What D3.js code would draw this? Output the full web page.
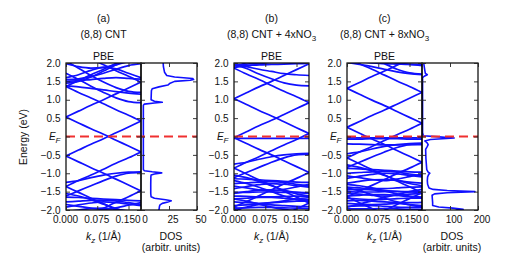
<!DOCTYPE html>
<html>
<head>
<meta charset="utf-8">
<script src="https://cdn.jsdelivr.net/npm/d3@7"></script>
<style>
  body { margin: 0; background: #fff; }
  svg text { font-family: "Liberation Sans", Arial, sans-serif; font-size: 10.5px; fill: #111; }
  svg .tick text { font-size: 10px; }
</style>
</head>
<body>
<div id="chart"></div>
<script>
// --- Data ---
const kGrid = [0, 0.03, 0.06, 0.09, 0.12, 0.15, 0.18];
const kTicks = [0, 0.075, 0.15];
const energyTicks = [-2, -1.5, -1, -0.5, 0, 0.5, 1, 1.5, 2];
const energyLabels = ['\u22122.0', '\u22121.5', '\u22121.0', '\u22120.5', 'EF', '0.5', '1.0', '1.5', '2.0'];
const dosTicksA = [0, 25, 50];
const dosTicksC = [0, 100, 200];

// band energies (eV) at each kGrid point
const bandsA = [
  [-0.53, -0.37, -0.21, -0.06, 0.10, 0.26, 0.42],
  [0.53, 0.37, 0.21, 0.06, -0.10, -0.26, -0.42],
  [0.53, 0.69, 0.85, 1.00, 1.16, 1.32, 1.48],
  [-0.53, -0.69, -0.85, -1.00, -1.16, -1.32, -1.48],
  [1.36, 1.20, 1.05, 0.89, 0.73, 0.58, 0.42],
  [-1.36, -1.20, -1.05, -0.89, -0.73, -0.58, -0.42],
  [1.36, 1.52, 1.68, 1.83, 1.99, 2.15, 2.31],
  [-1.36, -1.52, -1.68, -1.83, -1.99, -2.15, -2.31],
  [2.42, 2.27, 2.11, 1.95, 1.79, 1.64, 1.48],
  [-2.42, -2.27, -2.11, -1.95, -1.79, -1.64, -1.48],
  [1.72, 1.55, 1.37, 1.20, 1.05, 0.95, 0.92],
  [2.05, 1.86, 1.66, 1.48, 1.33, 1.23, 1.20],
  [1.38, 1.35, 1.31, 1.27, 1.22, 1.18, 1.15],
  [1.45, 1.50, 1.62, 1.78, 1.95, 2.10, 2.20],
  [1.55, 1.57, 1.63, 1.72, 1.83, 1.93, 1.98],
  [1.50, 1.52, 1.55, 1.58, 1.60, 1.58, 1.56],
  [1.60, 1.68, 1.80, 1.88, 1.84, 1.72, 1.60],
  [1.98, 1.90, 1.86, 1.88, 1.95, 2.04, 2.10],
  [-1.25, -1.20, -1.12, -1.05, -1.00, -0.97, -0.96],
  [-1.62, -1.48, -1.34, -1.20, -1.08, -1.00, -0.98],
  [-1.65, -1.66, -1.68, -1.70, -1.72, -1.74, -1.75],
  [-1.78, -1.76, -1.74, -1.73, -1.75, -1.80, -1.85],
  [-1.85, -1.90, -1.95, -1.98, -1.94, -1.87, -1.80],
  [-1.55, -1.62, -1.72, -1.84, -1.96, -2.06, -2.12],
  [-1.92, -1.86, -1.81, -1.78, -1.80, -1.84, -1.88],
  [-2.05, -2.00, -1.96, -1.95, -1.98, -2.02, -2.05]
];

const bandsB = [
  [-0.03, 0.13, 0.29, 0.44, 0.60, 0.76, 0.92],
  [1.03, 0.87, 0.71, 0.56, 0.40, 0.24, 0.08],
  [1.03, 1.19, 1.35, 1.50, 1.66, 1.82, 1.98],
  [-0.03, -0.19, -0.35, -0.50, -0.66, -0.82, -0.98],
  [1.86, 1.70, 1.55, 1.39, 1.23, 1.08, 0.92],
  [-0.86, -0.70, -0.55, -0.39, -0.23, -0.08, 0.08],
  [1.86, 2.02, 2.18, 2.33, 2.49, 2.65, 2.81],
  [-0.86, -1.02, -1.18, -1.33, -1.49, -1.65, -1.81],
  [-1.92, -1.77, -1.61, -1.45, -1.29, -1.14, -0.98],
  [-1.92, -2.08, -2.24, -2.39, -2.55, -2.71, -2.87],
  [-2.76, -2.60, -2.45, -2.29, -2.13, -1.97, -1.81],
  [1.98, 1.85, 1.70, 1.57, 1.46, 1.40, 1.38],
  [1.96, 1.90, 1.83, 1.77, 1.71, 1.68, 1.66],
  [1.92, 1.93, 1.95, 1.96, 1.97, 1.98, 1.99],
  [1.88, 1.92, 1.97, 2.02, 2.06, 2.10, 2.12],
  [1.95, 1.97, 2.00, 2.05, 2.10, 2.08, 2.06],
  [-0.75, -0.70, -0.62, -0.55, -0.50, -0.47, -0.46],
  [-1.12, -0.98, -0.84, -0.70, -0.58, -0.50, -0.48],
  [-1.15, -1.16, -1.18, -1.20, -1.22, -1.24, -1.25],
  [-1.28, -1.26, -1.24, -1.23, -1.25, -1.30, -1.35],
  [-1.35, -1.40, -1.45, -1.48, -1.44, -1.37, -1.30],
  [-1.05, -1.12, -1.22, -1.34, -1.46, -1.56, -1.62],
  [-1.42, -1.36, -1.31, -1.28, -1.30, -1.34, -1.38],
  [-1.55, -1.50, -1.46, -1.45, -1.48, -1.52, -1.55],
  [-0.05, -0.05, -0.05, -0.05, -0.05, -0.05, -0.05],
  [-1.52, -1.52, -1.51, -1.51, -1.52, -1.52, -1.53],
  [-1.62, -1.63, -1.64, -1.64, -1.63, -1.62, -1.62],
  [-1.70, -1.68, -1.66, -1.66, -1.68, -1.70, -1.72],
  [-1.78, -1.80, -1.82, -1.80, -1.78, -1.76, -1.75],
  [-1.88, -1.86, -1.85, -1.86, -1.88, -1.90, -1.91],
  [-1.95, -1.94, -1.93, -1.93, -1.94, -1.95, -1.96],
  [-1.70, -1.76, -1.84, -1.92, -1.98, -2.02, -2.05],
  [-1.20, -1.28, -1.38, -1.50, -1.62, -1.72, -1.78],
  [-1.98, -1.92, -1.85, -1.80, -1.75, -1.70, -1.66]
];

const bandsC = [
  [0.25, 0.41, 0.57, 0.72, 0.88, 1.04, 1.20],
  [1.31, 1.15, 0.99, 0.84, 0.68, 0.52, 0.36],
  [1.31, 1.47, 1.63, 1.78, 1.94, 2.10, 2.26],
  [0.25, 0.09, -0.07, -0.22, -0.38, -0.54, -0.70],
  [2.14, 1.98, 1.83, 1.67, 1.51, 1.36, 1.20],
  [-0.58, -0.42, -0.27, -0.11, 0.05, 0.20, 0.36],
  [-0.58, -0.74, -0.90, -1.05, -1.21, -1.37, -1.53],
  [-1.64, -1.49, -1.33, -1.17, -1.01, -0.86, -0.70],
  [-1.64, -1.80, -1.96, -2.11, -2.27, -2.43, -2.59],
  [-2.48, -2.32, -2.17, -2.01, -1.85, -1.69, -1.53],
  [2.50, 2.33, 2.15, 1.98, 1.83, 1.73, 1.70],
  [2.16, 2.12, 2.08, 2.04, 2.00, 1.96, 1.93],
  [2.02, 1.96, 1.90, 1.83, 1.76, 1.71, 1.68],
  [2.10, 2.05, 2.00, 1.98, 1.97, 1.96, 1.96],
  [-0.47, -0.42, -0.34, -0.27, -0.22, -0.19, -0.18],
  [-0.84, -0.70, -0.56, -0.42, -0.30, -0.22, -0.20],
  [-0.87, -0.88, -0.90, -0.92, -0.94, -0.96, -0.97],
  [-1.00, -0.98, -0.96, -0.95, -0.97, -1.02, -1.07],
  [-1.07, -1.12, -1.17, -1.20, -1.16, -1.09, -1.02],
  [-0.77, -0.84, -0.94, -1.06, -1.18, -1.28, -1.34],
  [-1.14, -1.08, -1.03, -1.00, -1.02, -1.06, -1.10],
  [-1.27, -1.22, -1.18, -1.17, -1.20, -1.24, -1.27],
  [-0.04, -0.04, -0.04, -0.04, -0.04, -0.04, -0.04],
  [-0.07, -0.07, -0.06, -0.06, -0.06, -0.07, -0.07],
  [-0.20, -0.21, -0.22, -0.23, -0.23, -0.22, -0.22],
  [-1.38, -1.40, -1.42, -1.42, -1.40, -1.38, -1.37],
  [-1.45, -1.44, -1.45, -1.47, -1.49, -1.50, -1.50],
  [-1.50, -1.51, -1.51, -1.50, -1.50, -1.51, -1.52],
  [-1.55, -1.57, -1.60, -1.62, -1.60, -1.57, -1.55],
  [-1.62, -1.60, -1.58, -1.58, -1.60, -1.64, -1.66],
  [-1.68, -1.70, -1.72, -1.71, -1.69, -1.68, -1.68],
  [-1.75, -1.74, -1.76, -1.78, -1.80, -1.80, -1.79],
  [-1.82, -1.84, -1.85, -1.84, -1.82, -1.85, -1.88],
  [-1.90, -1.89, -1.88, -1.90, -1.92, -1.93, -1.92],
  [-1.96, -1.97, -1.97, -1.96, -1.97, -1.98, -1.98],
  [-1.40, -1.48, -1.58, -1.68, -1.78, -1.86, -1.92],
  [-1.92, -1.84, -1.75, -1.66, -1.58, -1.50, -1.44],
  [-1.30, -1.34, -1.40, -1.48, -1.56, -1.62, -1.65]
];

// density of states: energies and values
const dosEnergyA = [-2.0, -1.9, -1.86, -1.82, -1.78, -1.75, -1.72, -1.68, -1.64, -1.55, -1.3, -1.1, -1.05, -1.02, -0.99, -0.96, -0.93, -0.9,
  0.85, 0.88, 0.91, 0.93, 0.96, 1.0, 1.25, 1.3, 1.35, 1.4, 1.45, 1.5, 1.53, 1.55, 1.58, 1.62, 1.66, 1.75, 1.9, 2.0];
const dosValuesA = [16, 16.5, 17, 19, 24, 27, 22, 12, 9, 8.7, 8.7, 8.8, 9, 12, 18.5, 10, 3, 2.1,
  2.1, 3, 12, 19, 12, 9, 9.3, 10, 16, 24, 26, 30, 44, 47, 46, 30, 23, 21, 20, 19.8];

const dosEnergyC = [-2.0, -1.98, -1.95, -1.92, -1.88, -1.8, -1.7, -1.6, -1.56, -1.53, -1.5, -1.47, -1.44, -1.4, -1.3, -1.2, -1.1, -1.03, -1.0, -0.97,
  -0.9, -0.6, -0.35, -0.28, -0.22, -0.17, -0.12, -0.08, -0.04, -0.01, 0.02, 0.1, 1.6, 1.64, 1.68, 1.72, 1.8, 2.0];
const dosValuesC = [120, 147, 110, 60, 38, 38, 37, 36, 45, 90, 189, 90, 40, 25, 20, 19, 20, 24, 28, 22,
  17, 14, 13, 18, 22, 18, 10, 30, 115, 60, 5, 2, 2, 8, 19, 12, 10, 6];

// --- Layout ---
const W = 506, H = 263;
const TOP = 63, BOTTOM = 210;
const BLUE = '#1010ff';

const svg = d3.select('#chart').append('svg')
  .attr('width', W)
  .attr('height', H);

const y = d3.scaleLinear().domain([-2, 2]).range([BOTTOM, TOP]);

function styleAxis(g) {
  g.select('.domain').remove();
  g.style('color', '#222');
  g.selectAll('.tick line').attr('stroke-width', 0.9);
}

function subText(sel, main, sub, italic) {
  sel.append('tspan').style('font-style', italic ? 'italic' : null).text(main);
  sel.append('tspan').attr('dy', 3).style('font-size', '8px').style('font-style', italic ? 'italic' : null).text(sub);
}

function drawPanel(cfg) {
  const g = svg.append('g');
  const x = d3.scaleLinear().domain([0, 0.18]).range([cfg.left, cfg.right]);
  const cx = (cfg.left + cfg.right) / 2;

  // clip for bands
  svg.append('clipPath').attr('id', 'clip-' + cfg.id)
    .append('rect')
    .attr('x', cfg.left).attr('y', TOP)
    .attr('width', cfg.right - cfg.left).attr('height', BOTTOM - TOP);

  const line = d3.line()
    .x((d, i) => x(kGrid[i]))
    .y(d => y(d))
    .curve(d3.curveMonotoneX);

  g.append('g')
    .attr('clip-path', `url(#clip-${cfg.id})`)
    .selectAll('path')
    .data(cfg.bands)
    .enter()
    .append('path')
    .attr('d', line)
    .attr('fill', 'none')
    .attr('stroke', BLUE)
    .attr('stroke-width', 1.7)
    .attr('stroke-linejoin', 'round');

  let xd = null;
  if (cfg.dosValues) {
    xd = d3.scaleLinear().domain([0, cfg.dosTicks[cfg.dosTicks.length - 1]]).range([cfg.right, cfg.dosRight]);
    svg.append('clipPath').attr('id', 'clipd-' + cfg.id)
      .append('rect')
      .attr('x', cfg.right).attr('y', TOP)
      .attr('width', cfg.dosRight - cfg.right).attr('height', BOTTOM - TOP);

    const pts = cfg.dosEnergy.map((e, i) => ({ e: e, v: cfg.dosValues[i] }));
    g.append('path')
      .datum(pts)
      .attr('clip-path', `url(#clipd-${cfg.id})`)
      .attr('d', d3.line().x(d => xd(d.v)).y(d => y(d.e)))
      .attr('fill', 'none')
      .attr('stroke', BLUE)
      .attr('stroke-width', 1.6)
      .attr('stroke-linejoin', 'round');
  }

  // Fermi level
  const endX = cfg.dosRight || cfg.right;
  g.append('line')
    .attr('x1', cfg.left).attr('x2', endX)
    .attr('y1', y(0)).attr('y2', y(0))
    .attr('stroke', '#f03030')
    .attr('stroke-width', 2)
    .attr('stroke-dasharray', '9,5');

  // frames
  g.append('rect')
    .attr('x', cfg.left).attr('y', TOP)
    .attr('width', cfg.right - cfg.left).attr('height', BOTTOM - TOP)
    .attr('fill', 'none').attr('stroke', '#000').attr('stroke-width', 1.2);
  if (xd) {
    g.append('rect')
      .attr('x', cfg.right).attr('y', TOP)
      .attr('width', cfg.dosRight - cfg.right).attr('height', BOTTOM - TOP)
      .attr('fill', 'none').attr('stroke', '#000').attr('stroke-width', 1.2);
  }

  // axes
  const left = g.append('g')
    .attr('transform', `translate(${cfg.left},0)`)
    .call(d3.axisLeft(y).tickValues(energyTicks).tickSize(-4).tickPadding(5.5)
      .tickFormat((d, i) => energyLabels[i]));
  styleAxis(left);
  left.selectAll('.tick text').filter(d => d === 0).each(function () {
    const t = d3.select(this).text('');
    subText(t, 'E', 'F', true);
  });

  const rightAx = g.append('g')
    .attr('transform', `translate(${cfg.right},0)`)
    .call(d3.axisRight(y).tickValues(energyTicks).tickSize(-4).tickFormat(''));
  styleAxis(rightAx);

  const bottom = g.append('g')
    .attr('transform', `translate(0,${BOTTOM})`)
    .call(d3.axisBottom(x).tickValues(kTicks).tickSize(-4).tickPadding(6).tickFormat(d3.format('.3f')));
  styleAxis(bottom);
  bottom.selectAll('.tick text').attr('dx', -1);

  const topAx = g.append('g')
    .attr('transform', `translate(0,${TOP})`)
    .call(d3.axisTop(x).tickValues(kTicks).tickSize(-4).tickFormat(''));
  styleAxis(topAx);

  if (xd) {
    const dcx = (cfg.right + cfg.dosRight) / 2;
    const db = g.append('g')
      .attr('transform', `translate(0,${BOTTOM})`)
      .call(d3.axisBottom(xd).tickValues(cfg.dosTicks).tickSize(-4).tickPadding(6).tickFormat(d3.format('d')));
    styleAxis(db);
    db.selectAll('.tick text').attr('dx', 3.5);
    const dt = g.append('g')
      .attr('transform', `translate(0,${TOP})`)
      .call(d3.axisTop(xd).tickValues(cfg.dosTicks).tickSize(-4).tickFormat(''));
    styleAxis(dt);
    const dr = g.append('g')
      .attr('transform', `translate(${cfg.dosRight},0)`)
      .call(d3.axisRight(y).tickValues(energyTicks).tickSize(-4).tickFormat(''));
    styleAxis(dr);
    const dl = g.append('g')
      .attr('transform', `translate(${cfg.right},0)`)
      .call(d3.axisLeft(y).tickValues(energyTicks).tickSize(-4).tickFormat(''));
    styleAxis(dl);

    g.append('text').attr('x', dcx + 2).attr('y', 240).attr('text-anchor', 'middle').text('DOS');
    g.append('text').attr('x', dcx + 2).attr('y', 251).attr('text-anchor', 'middle').text('(arbitr. units)');
  }

  // labels
  g.append('text').attr('x', cx).attr('y', 22).attr('text-anchor', 'middle').text(cfg.letter);
  const title = g.append('text').attr('x', cx).attr('y', 37.5).attr('text-anchor', 'middle');
  if (cfg.titleSub) {
    subText(title, cfg.title, cfg.titleSub, false);
  } else {
    title.text(cfg.title);
  }
  g.append('text').attr('x', cx).attr('y', 59.5).attr('text-anchor', 'middle').text('PBE');

  const kl = g.append('text').attr('x', cx).attr('y', 240).attr('text-anchor', 'middle');
  kl.append('tspan').style('font-style', 'italic').text('k');
  kl.append('tspan').attr('dy', 3).style('font-size', '8px').style('font-style', 'italic').text('z');
  kl.append('tspan').attr('dy', -3).text(' (1/\u00C5)');
}

drawPanel({ id: 'a', left: 66, right: 141, dosRight: 197, bands: bandsA,
  dosEnergy: dosEnergyA, dosValues: dosValuesA, dosTicks: dosTicksA,
  letter: '(a)', title: '(8,8) CNT' });
drawPanel({ id: 'b', left: 234, right: 309, bands: bandsB,
  letter: '(b)', title: '(8,8) CNT + 4xNO', titleSub: '3' });
drawPanel({ id: 'c', left: 347, right: 422, dosRight: 478, bands: bandsC,
  dosEnergy: dosEnergyC, dosValues: dosValuesC, dosTicks: dosTicksC,
  letter: '(c)', title: '(8,8) CNT + 8xNO', titleSub: '3' });

// y axis title
svg.append('text')
  .attr('transform', 'translate(26.5,137) rotate(-90)')
  .attr('text-anchor', 'middle')
  .text('Energy (eV)');
</script>
</body>
</html>
